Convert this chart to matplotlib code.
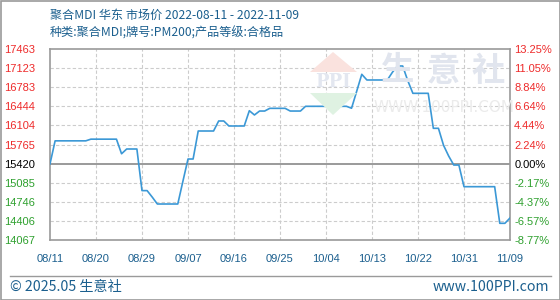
import matplotlib
matplotlib.use("Agg")
import matplotlib.pyplot as plt
import matplotlib.patches as patches
import numpy as np

plt.rcParams['font.family'] = ['Noto Sans CJK SC', 'DejaVu Sans']

# price per day, 2022-08-11 .. 2022-11-09 (day offsets 0..90)
prices = [15420, 15830, 15830, 15830, 15830, 15830, 15830, 15830, 15860, 15860,
          15860, 15860, 15860, 15860, 15600, 15685, 15685, 15685, 14945, 14945,
          14830, 14707, 14707, 14707, 14707, 14707, 15110, 15507, 15507, 16005,
          16005, 16005, 16005, 16183, 16183, 16094, 16094, 16094, 16094, 16366,
          16290, 16360, 16360, 16408, 16408, 16408, 16408, 16360, 16360, 16360,
          16444, 16444, 16444, 16444, 16444, 16444, 16444, 16444, 16444, 16410,
          16710, 17013, 16912, 16912, 16912, 16912, 16912, 17050, 17161, 17161,
          16900, 16675, 16675, 16675, 16675, 16053, 16053, 15750, 15560, 15400,
          15400, 15015, 15015, 15015, 15015, 15015, 15015, 15015, 14364, 14364,
          14458]
date_labels = ['08/11', '08/20', '08/29', '09/07', '09/16', '09/25',
               '10/04', '10/13', '10/22', '10/31', '11/09']
price_labels = ['17463', '17123', '16783', '16444', '16104', '15765',
                '15420', '15085', '14746', '14406', '14067']
pct_labels = ['13.25%', '11.05%', '8.84%', '6.64%', '4.44%', '2.24%',
              '0.00%', '-2.17%', '-4.37%', '-6.57%', '-8.77%']
y_min, y_max = 14067, 17463
base = 15420

title1 = '聚合MDI 华东 市场价 2022-08-11 - 2022-11-09'
title2 = '种类:聚合MDI;牌号:PM200;产品等级:合格品'

RED = '#ee2a2a'
GREEN = '#2ea02e'
BLUE_TXT = '#1b5f8e'
LINE = '#3b98d6'
GRID = '#cccccc'
SPINE = '#9a9a9a'

fig = plt.figure(figsize=(5.6, 3.0), dpi=100)
W, H = 560, 300
ax = fig.add_axes([50 / W, 60 / H, 460 / W, 191 / H])

days = np.arange(len(prices))
ax.set_xlim(0, len(prices) - 1)
ax.set_ylim(y_min, y_max)

# grid
xt = np.linspace(0, len(prices) - 1, len(date_labels))
yt = np.linspace(y_max, y_min, len(price_labels))
for x in xt[1:-1]:
    ax.axvline(x, color=GRID, lw=0.8, ls=(0, (3, 2)), zorder=1)
for i, y in enumerate(yt[1:-1], start=1):
    if price_labels[i] == str(base):
        continue
    ax.axhline(y, color=GRID, lw=0.8, ls=(0, (3, 2)), zorder=1)
ax.axhline(yt[6], color=SPINE, lw=1.4, zorder=2)

# watermark
wm = '#e1e5ee'
for cx, ch in zip([398, 443, 488], ['生', '意', '社']):
    fig.text(cx / W, 1 - 71 / H, ch, fontsize=24, fontweight='bold', color=wm,
             ha='center', va='center', zorder=0)
fig.text(444 / W, 1 - 107 / H, 'WWW.100PPI.COM', fontsize=11, color='#ebebeb',
         ha='center', va='center', family='DejaVu Sans', zorder=0)
fig.patches.append(patches.Polygon([[310 / W, 1 - 72 / H], [357 / W, 1 - 72 / H], [333 / W, 1 - 52 / H]],
                                   closed=True, transform=fig.transFigure, fc='#fae2de', ec='none', zorder=0))
fig.patches.append(patches.Polygon([[310 / W, 1 - 93 / H], [357 / W, 1 - 93 / H], [333 / W, 1 - 115 / H]],
                                   closed=True, transform=fig.transFigure, fc='#dff2e2', ec='none', zorder=0))
fig.text(333 / W, 1 - 82 / H, 'PPI', fontsize=13, fontweight='bold', color='#e3e7f0',
         ha='center', va='center', family='DejaVu Serif', zorder=0)
ax.patch.set_alpha(0)

ax.plot(days, prices, color=LINE, lw=1.2, zorder=3)

for s in ax.spines.values():
    s.set_color(SPINE)
    s.set_linewidth(1.2)

ax.set_xticks(xt)
ax.set_xticklabels(date_labels, color=BLUE_TXT, fontsize=8, family='Liberation Sans')
ax.tick_params(axis='x', length=0, pad=10)

ax.set_yticks(yt)
ax.set_yticklabels(price_labels, fontsize=8, family='Liberation Sans')
ax.tick_params(axis='y', length=0, pad=11)
for i, lab in enumerate(ax.get_yticklabels()):
    lab.set_color(RED if i < 6 else ('black' if i == 6 else GREEN))

ax2 = ax.twinx()
ax2.set_ylim(y_min, y_max)
ax2.set_yticks(yt)
ax2.set_yticklabels(pct_labels, fontsize=8, family='Liberation Sans')
ax2.tick_params(axis='y', length=0, pad=3)
for i, lab in enumerate(ax2.get_yticklabels()):
    lab.set_color(RED if i < 6 else ('black' if i == 6 else GREEN))
for s in ax2.spines.values():
    s.set_visible(False)

# titles
fig.text(50 / W, 1 - 15 / H, title1, fontsize=8.7, color=BLUE_TXT, va='center', ha='left')
fig.text(50 / W, 1 - 33 / H, title2, fontsize=8.7, color=BLUE_TXT, va='center', ha='left')

# footer
fig.add_artist(plt.Line2D([10 / W, 551 / W], [1 - 276 / H, 1 - 276 / H], color=SPINE, lw=1))
fig.text(10 / W, 1 - 287 / H, '© 2025.05 生意社', fontsize=10.2, color=BLUE_TXT, va='center', ha='left')
fig.text(549 / W, 1 - 287 / H, 'www.100PPI.com', fontsize=10.2, color=BLUE_TXT, va='center', ha='right')
fig.patches.append(patches.Rectangle((0.5 / W, 0.5 / H), 1 - 1 / W, 1 - 1 / H, transform=fig.transFigure,
                                     fill=False, ec=SPINE, lw=1.2))

fig.savefig('out.png', dpi=100)
